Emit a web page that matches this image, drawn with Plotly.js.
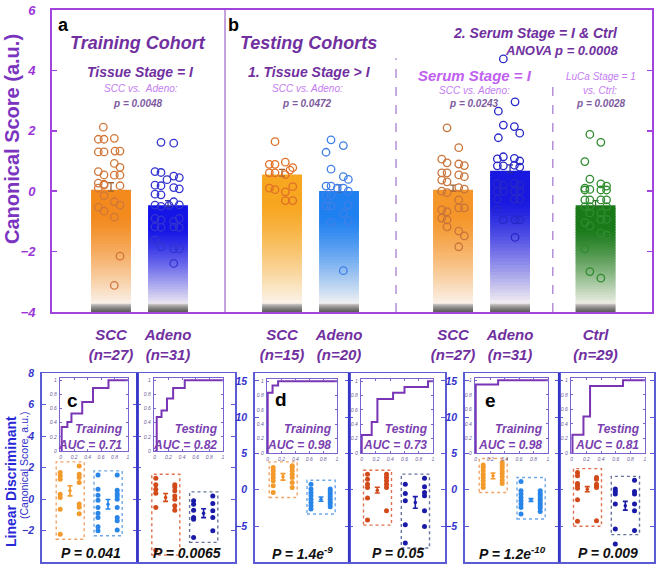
<!DOCTYPE html>
<html><head><meta charset="utf-8">
<script src="https://cdn.plot.ly/plotly-3.0.1.min.js"></script>
<style>body{margin:0;padding:0;background:#fff}#chart{width:656px;height:567px}</style>
</head><body><div id="chart"></div>
<script>
// ================= DATA =================
const categories = ['SCC','Adeno','SCC','Adeno','SCC','Adeno','Ctrl'];
const counts = [27,31,15,20,27,31,29];
const barMeans = [0.0,-0.51,0.50,-0.04,0.0,0.62,-0.51];
const barSem = [0.28,0.2,0.22,0.25,0.2,0.25,0.2];

const sccTrain = [2.12,1.72,1.72,1.75,1.30,1.30,1.33,1.33,0.92,0.79,0.65,0.54,0.53,0.53,0.27,0.23,0.10,0.20,0.18,-0.15,-0.35,-0.46,-0.53,-0.66,-0.86,-2.15,-3.12];
const adenoTrain = [1.62,1.59,0.65,0.62,0.50,0.45,0.38,0.20,0.18,0.12,0.08,-0.10,-0.12,-0.46,-0.50,-0.35,-0.45,-0.47,-0.90,-0.95,-0.90,-1.00,-1.18,-1.20,-1.18,-1.20,-1.62,-1.84,-1.91,-1.91,-2.39];
const sccTest = [1.64,0.89,0.89,0.96,0.78,0.61,0.61,0.55,0.70,0.10,0.05,-0.02,0.15,-0.31,-0.31];
const adenoTest = [1.70,1.51,1.29,0.73,0.48,0.39,0.17,0.17,0.10,0.10,0.00,-0.13,-0.13,-0.49,-0.49,-0.46,-0.73,-0.98,-1.03,-2.63];
const sccSerum = [2.10,1.44,1.06,0.94,0.90,0.85,0.61,0.61,0.54,0.48,0.37,0.31,0.12,0.07,0.00,-0.05,-0.29,-0.55,-0.55,-0.62,-0.68,-0.89,-0.95,-1.18,-1.32,-1.48,-1.84];
const adenoSerum = [4.38,2.96,2.65,2.19,2.14,1.92,1.77,1.07,1.14,1.09,1.00,0.84,0.84,0.86,0.80,0.24,0.20,0.27,0.20,0.00,0.00,0.00,0.02,-0.26,-0.26,-0.26,-0.62,-0.95,-0.95,-0.95,-1.53];
const ctrl = [1.88,1.62,0.98,0.40,0.10,0.06,0.24,0.17,0.04,0.04,0.04,-0.29,-0.29,-0.29,-0.29,-0.51,-0.51,-0.51,-0.72,-0.72,-1.04,-1.15,-0.93,-0.93,-1.39,-1.45,-1.91,-2.66,-2.88];

// bottom panels: left/right dot columns per group
const cTrainSccL = [1.69,1.48,1.27,0.32,0.11,-0.63,-2.22];
const cTrainSccR = [2.11,1.58,1.37,1.06,-0.30,-0.51,-0.93];
const cTrainAdL = [1.54,0.63,0.25,-0.06,-0.53,-0.89,-1.16,-1.75,-2.0];
const cTrainAdR = [1.54,0.56,0.35,0.21,0.0,-0.53,-1.16,-1.37,-1.96];
const cTestSccL = [1.33,0.91,0.63,0.38,-0.53,-3.23];
const cTestSccR = [0.91,0.78,0.53,0.21,0.0,-0.42,-0.70];
const cTestAdL = [-0.10,-0.32,-0.70,-1.16,-1.27,-2.42];
const cTestAdR = [0.21,-0.27,-0.73,-1.16,-2.0];
const dTrainSccL = [3.06,2.61,2.14,1.69,1.24,0.55,-0.37];
const dTrainSccR = [3.3,3.06,2.61,2.14,1.69,1.0,0.32];
const dTrainAdL = [0.77,0.09,-0.37,-0.82,-1.29,-1.74,-2.2,-2.66];
const dTrainAdR = [0.09,-0.23,-0.6,-0.92,-1.29,-1.65,-1.97,-2.34];
const dTestSccL = [2.14,1.46,0.77,0.32,-1.15,-4.18];
const dTestSccR = [2.14,1.69,1.24,0.77,0.32,-2.88];
const dTestAdL = [0.77,-0.51,-1.51,-4.81,-7.33];
const dTestAdR = [1.6,0.41,-0.37,-0.82,-2.88,-5.08];
const eTrainSccL = [3.43,3.06,2.61,2.14,1.69,1.24,0.77,0.32];
const eTrainSccR = [3.75,3.43,3.06,2.61,2.24,1.78,1.32,0.87];
const eTrainAdL = [1.14,-0.14,-0.6,-1.06,-1.51,-1.97,-2.43,-3.35];
const eTrainAdR = [-0.14,-0.51,-0.83,-1.19,-1.51,-1.88,-2.2,-2.52,-2.98];
const eTestSccL = [2.37,1.92,0.87,0.55,0.22,-1.37,-4.35];
const eTestSccR = [1.69,1.46,0.77,0.55,0.32,-4.26];
const eTestAdL = [0.09,-0.23,-0.6,-1.97,-5.41,-7.47];
const eTestAdR = [1.3,-0.23,-0.6,-1.97,-2.88,-5.63];
const groupMeans = [0.53,-0.32, 0.11,-0.89, 1.78,-1.29, -0.05,-1.74, 1.92,-1.42, 0.08,-2.2];
const groupErrs = [0.32,0.3, 0.25,0.28, 0.45,0.3, 0.4,0.8, 0.4,0.2, 0.35,0.6];

// ROC curves (step vertices)
const rocFpr = [
  [0,0.015,0.1,0.16,0.32,0.48,0.71,1],
  [0,0.03,0.1,0.18,0.27,0.44,1],
  [0,0,0.07,0.15,1],
  [0,0,0.14,0.22,0.44,0.6,0.93,1],
  [0,0,0.31,1],
  [0,0.01,0.16,0.25,0.7,1]
];
const rocTpr = [
  [0,0.34,0.41,0.53,0.69,0.89,1,1],
  [0,0.48,0.57,0.74,0.89,1,1],
  [0,0.84,0.94,1,1],
  [0,0.25,0.43,0.75,0.84,0.92,1,1],
  [0,0.94,1,1],
  [0,0.25,0.5,0.92,1,1]
];
const rocNames = ['Training','Testing','Training','Testing','Training','Testing'];
const aucValues = ['0.71','0.82','0.98','0.73','0.98','0.81'];
const pLabels = ['P = 0.041','P = 0.0065','P = 1.4e<sup>-9</sup>','P = 0.05','P = 1.2e<sup>-10</sup>','P = 0.009'];

// ================= LAYOUT CONSTANTS =================
const W = 656, H = 567;
const FONT = 'Liberation Sans, Arial, sans-serif';
const domX = (a,b) => [a/W, b/W];
const domY = (top,bot) => [1 - bot/H, 1 - top/H];
const PX = p => p/W, PY = p => 1 - p/H;

const xpos = [1,2,4,5,7,8,9.5];
const xUnitPx = 57;
const sepX = [3,6,8.75];
const barColors = ['#f28a1e','#1414e6','#f7a620','#1f80f0','#f5962a','#1818e0','#1a7a1a'];
const dotColors = ['#d2773a','#3434d0','#e07028','#3f7fe8','#c8743a','#2828c8','#2e8b2e'];
const sccTrainJit = [-7.7,-12.7,-7,3.3,-12.7,-7,4,9,3.3,9,-12.7,-7,3.3,9,-12.7,-7,-12.7,-7,9,-7,3.3,9,-12.7,-7,3.3,9,3.3];
const adenoTrainJit = [-7,5.7,-13,-7,5.7,11.3,-1,-13,-7,5.7,11.3,-13,-7,-13,-7,5.7,11.3,1,-13,-7,11.3,5.7,-13,-7,5.7,11.3,-13,-7,5.7,11.3,5.7];
const sccTestJit = [-7,-12.7,-7,3.3,10.7,-12.7,-7,3.3,8,-12.7,-7,3.3,10.7,3.3,10.7];
const adenoTestJit = [-8,4.3,-13,-8,4.3,9.3,-13,-8,-1.7,4.3,9.3,-13,-8,-13,-8,9.3,4.3,9.3,-8,4.3];
const sccSerumJit = [-6,5.7,-11.3,-6,5.7,11.3,-11.3,-6,5.7,11.3,-11.3,-6,5.7,11.3,-11.3,-6,5.7,5.7,11.3,-11.3,-6,-11.3,-6,-6,5.7,11.3,5.7];
const adenoSerumJit = [-6.7,5,-11.7,-6.7,4.3,9.7,-11.7,-12.7,-6.7,4.3,9.7,-12.7,-6.7,4.3,9.7,-12.7,-6.7,4.3,9.7,-12.7,-6.7,4.3,9.7,-12.7,4.3,9.7,-12.7,-6.7,5,9.7,5];
const ctrlJit = [-5.7,5.3,-10.7,-5.7,-10.7,-5.7,5.3,11,-10.7,5.3,11,-10.7,-5.7,5.3,11,-10.7,-5.7,11,-5.7,5.3,-10.7,-5.7,5.3,11,5.3,11,-10.7,-5.7,5.3];

const groups = [sccTrain,adenoTrain,sccTest,adenoTest,sccSerum,adenoSerum,ctrl];
const jits = [sccTrainJit,adenoTrainJit,sccTestJit,adenoTestJit,sccSerumJit,adenoSerumJit,ctrlJit];

function hex2rgb(h){return [parseInt(h.slice(1,3),16),parseInt(h.slice(3,5),16),parseInt(h.slice(5,7),16)];}
function mix(c1,c2,w){const a=hex2rgb(c1),b=hex2rgb(c2);return 'rgb('+a.map((v,i)=>Math.round(v*(1-w)+b[i]*w)).join(',')+')';}

const traces = [];
// gradient bars
const NSEG = 40, YMIN = -4, BAND = 0.26;
for (let k=0;k<NSEG;k++){
  const base=[], h=[], cols=[];
  for (let i=0;i<barMeans.length;i++){
    const top=barMeans[i], L=top-YMIN;
    const sTop = top - k*L/NSEG, sBot = top-(k+1)*L/NSEG;
    base.push(sBot); h.push(sTop-sBot + (k<NSEG-1?L/NSEG*0.5:0));
    const t=(k+0.5)/NSEG;
    let w = t<0.22?0:Math.min(1,Math.pow((t-0.22)/0.72,1.25))*0.95;
    cols.push(mix(barColors[i], '#fbf6f2', w));
  }
  traces.push({type:'bar',x:xpos,y:h,base:base,width:0.7,marker:{color:cols,line:{width:0}},hoverinfo:'skip',showlegend:false,xaxis:'x',yaxis:'y'});
}
const NB=8;
for (let k=0;k<NB;k++){
  const t=(k+0.5)/NB;
  const seg=BAND/NB;
  traces.push({type:'bar',x:xpos,y:xpos.map(()=>seg*1.3),base:xpos.map(()=>YMIN+BAND-(k+1)*seg),width:0.7,
    marker:{color:mix('#dcd8d4','#5a5a5a',Math.pow(t,0.7)),line:{width:0}},hoverinfo:'skip',showlegend:false});
}
// error bars (upper half)
for (let i=0;i<barMeans.length;i++){
  traces.push({type:'scatter',mode:'markers',x:[xpos[i]],y:[barMeans[i]],marker:{size:1,opacity:0},
    error_y:{type:'data',symmetric:false,array:[barSem[i]],arrayminus:[0],color:mix(dotColors[i],'#303030',0.3),thickness:1.3,width:3},
    hoverinfo:'skip',showlegend:false});
}
// points
for (let g=0; g<groups.length; g++){
  traces.push({type:'scatter',mode:'markers',x:groups[g].map((v,j)=>xpos[g]+jits[g][j]/xUnitPx),y:groups[g],
    marker:{symbol:'circle-open',size:7.5,color:dotColors[g],line:{width:1.3}},hoverinfo:'skip',showlegend:false});
}

// ================= BOTTOM PANELS =================
const panelX = [[41.7,137.3],[137.3,235],[254.7,349],[349,445],[464.7,559],[559,654]];
const panelTop = 373, panelBot = 562.3;
const panelRange = [[-4,8],[-4,8],[-10,16.1],[-10,16.1],[-10,16.1],[-10,16.1]];
const panelTicks = [[-4,-2,0,2,4,6,8],[-4,-2,0,2,4,6,8],[-10,-5,0,5,10,15],[-10,-5,0,5,10,15],[-10,-5,0,5,10,15],[-10,-5,0,5,10,15]];
const rocBox = [[60,128,378,451],[154,223,378,451],[267,337,379,453],[361,433,379,453],[475,548,378,453],[571,645,378,453]];
const colPos = [18.5,28.3,37.5,56.3,66.3,75.5];
const panelData = [
  [cTrainSccL,cTrainSccR,cTrainAdL,cTrainAdR],[cTestSccL,cTestSccR,cTestAdL,cTestAdR],
  [dTrainSccL,dTrainSccR,dTrainAdL,dTrainAdR],[dTestSccL,dTestSccR,dTestAdL,dTestAdR],
  [eTrainSccL,eTrainSccR,eTrainAdL,eTrainAdR],[eTestSccL,eTestSccR,eTestAdL,eTestAdR]];
const trainCols = ['#f39a2c','#2a85e8'], testCols = ['#d24a1a','#1a1aa8'];
const trainBox = ['#f2a468','#6fa8e6'], testBox = ['#e0714e','#66729c'];
const frameCol = '#5b5bd6';

const layout = {
  width:W,height:H,margin:{l:0,r:0,t:0,b:0},paper_bgcolor:'#fff',plot_bgcolor:'rgba(0,0,0,0)',
  barmode:'overlay',showlegend:false,font:{family:FONT},
  xaxis:{domain:domX(52,652),range:[-0.035,10.49],tickvals:xpos,
    ticktext:categories.map((c,i)=>c+'<br>(n='+counts[i]+')'),
    tickfont:{family:FONT,size:15,color:'#7030a0',weight:'bold',style:'italic'},
    showline:true,mirror:true,linecolor:'#a044dd',linewidth:2,ticks:'',showgrid:false,zeroline:false,ticklabelstandoff:8},
  yaxis:{domain:domY(10,312),range:[-4,6],tickvals:[-4,-2,0,2,4,6],ticks:'inside',ticklen:5,tickcolor:'#a044dd',tickwidth:1.5,
    showline:true,mirror:'ticks',linecolor:'#a044dd',linewidth:2,showgrid:false,zeroline:false,
    tickfont:{family:FONT,size:13,color:'#9b35d6',weight:'bold',style:'italic'},ticklabelstandoff:12},
  shapes:[],annotations:[]
};
// separators in top panel
layout.shapes.push({type:'line',xref:'x',yref:'y',x0:sepX[0],x1:sepX[0],y0:-4,y1:6,line:{color:'#b58ad6',width:1.6}});
layout.shapes.push({type:'line',xref:'x',yref:'y',x0:sepX[1],x1:sepX[1],y0:-4,y1:4.4,line:{color:'#a87fd0',width:1.3,dash:'dash'}});
layout.shapes.push({type:'line',xref:'x',yref:'y',x0:sepX[2],x1:sepX[2],y0:-4,y1:3.6,line:{color:'#a87fd0',width:1.3,dash:'dash'}});

for (let p=0;p<6;p++){
  const ax=p+2, rx=p+8;
  const [x0,x1]=panelX[p]; const wpx=x1-x0;
  const isTrain = p%2===0;
  const yr=panelRange[p]; const ppu=(panelBot-panelTop)/(yr[1]-yr[0]);
  layout['xaxis'+ax]={domain:domX(x0,x1),range:[0,wpx],anchor:'y'+ax,showline:true,mirror:true,linecolor:frameCol,linewidth:1.5,
    ticks:'',showticklabels:false,showgrid:false,zeroline:false};
  layout['yaxis'+ax]={domain:domY(panelTop,panelBot),range:yr,anchor:'x'+ax,tickvals:panelTicks[p],ticks:'inside',ticklen:4,tickcolor:frameCol,
    showline:true,mirror:'ticks',linecolor:frameCol,linewidth:1.5,showgrid:false,zeroline:false,showticklabels:isTrain,
    tickfont:{family:FONT,size:10.5,color:'#3434cc',weight:'bold',style:'italic'},ticklabelstandoff:4};
  const cols = isTrain?trainCols:testCols, bcols = isTrain?trainBox:testBox;
  const d = panelData[p];
  for (let g=0; g<2; g++){
    const L=d[2*g], R=d[2*g+1];
    const xL=colPos[3*g], xM=colPos[3*g+1], xR=colPos[3*g+2];
    const all=L.concat(R);
    const mx=Math.max(...all), mn=Math.min(...all);
    let lo = mn - 5/ppu;
    if (p===5 && g===1) { const s=all.slice().sort((a,b)=>a-b); lo = s[1]-4/ppu; }
    layout.shapes.push({type:'rect',xref:'x'+ax,yref:'y'+ax,x0:xL-4,x1:xR+5,y0:lo,y1:mx+4/ppu,
      line:{color:bcols[g],width:1.4,dash:'dot'},layer:'below'});
    traces.push({type:'scatter',mode:'markers',xaxis:'x'+ax,yaxis:'y'+ax,x:L.map(()=>xL).concat(R.map(()=>xR)),y:all,
      marker:{size:5,color:cols[g]},hoverinfo:'skip'});
    traces.push({type:'scatter',mode:'markers',xaxis:'x'+ax,yaxis:'y'+ax,x:[xM],y:[groupMeans[2*p+g]],
      marker:{size:3.5,color:cols[g]},error_y:{type:'data',array:[groupErrs[2*p+g]],color:cols[g],thickness:1.6,width:2.5},hoverinfo:'skip'});
  }
  // ROC inset
  const rb=rocBox[p];
  layout['xaxis'+rx]={domain:domX(rb[0],rb[1]),range:[-0.01,1],anchor:'y'+rx,tickvals:[0,0.2,0.4,0.6,0.8,1],ticktext:['0','0.2','0.4','0.6','0.8','1'],
    ticks:'inside',ticklen:2,tickcolor:'#7a62d0',showline:true,mirror:'ticks',linecolor:'#7a62d0',linewidth:1.3,showgrid:false,zeroline:false,
    tickfont:{family:FONT,size:5,color:'#6a5a9a',style:'italic'},ticklabelstandoff:1};
  layout['yaxis'+rx]={domain:domY(rb[2],rb[3]),range:[0,1.03],anchor:'x'+rx,tickvals:[0,0.2,0.4,0.6,0.8,1],ticktext:['0','0.2','0.4','0.6','0.8','1'],
    ticks:'inside',ticklen:2,tickcolor:'#7a62d0',showline:true,mirror:'ticks',linecolor:'#7a62d0',linewidth:1.3,showgrid:false,zeroline:false,
    tickfont:{family:FONT,size:5,color:'#6a5a9a',style:'italic'},ticklabelstandoff:1};
  traces.push({type:'scatter',mode:'lines',xaxis:'x'+rx,yaxis:'y'+rx,x:rocFpr[p],y:rocTpr[p],line:{shape:'hv',color:'#7a35b5',width:2},hoverinfo:'skip'});
  layout.annotations.push({xref:'paper',yref:'paper',x:PX(rb[1]-3),y:PY(436.5),xanchor:'right',yanchor:'middle',showarrow:false,
    text:rocNames[p]+'<br>AUC = '+aucValues[p],align:'right',font:{family:FONT,size:12,color:'#7a3fb0',weight:'bold',style:'italic'}});
  layout.annotations.push({xref:'paper',yref:'paper',x:PX((x0+x1)/2+1),y:PY(553),xanchor:'center',yanchor:'middle',showarrow:false,
    text:pLabels[p],font:{family:FONT,size:14,color:'#111',weight:'bold',style:'italic'}});
}
// thicker separators inside bottom panel pairs
[137.3,349,559].forEach(xp=>layout.shapes.push({type:'line',xref:'paper',yref:'paper',x0:PX(xp),x1:PX(xp),y0:PY(panelBot),y1:PY(panelTop),line:{color:'#3636c8',width:2.2}}));

// ================= TEXT =================
function ann(text,x,y,size,color,opts={}){
  layout.annotations.push(Object.assign({xref:'paper',yref:'paper',x:PX(x),y:PY(y),xanchor:'center',yanchor:'middle',showarrow:false,text:text,
    font:{family:FONT,size:size,color:color,weight:opts.weight||'bold',style:opts.style||'italic'}},opts.extra||{}));
}
const dark='#7030a0', light='#c37cf2', pcol='#7e5aa0';
ann('Canonical Score (a.u.)',12,139,20,'#7a34c0',{style:'normal',extra:{textangle:-90}});
ann('a',63,25,18,'#000',{style:'normal'});
ann('b',233,25,18,'#000',{style:'normal'});
ann('Training Cohort',138,43,18,dark);
ann('Tissue Stage = I',140,72,14,dark);
ann('SCC vs.  Adeno:',141,88,10,light,{weight:'normal'});
ann('p = 0.0048',138,103,10,pcol);
ann('Testing Cohorts',308,43,18,dark);
ann('1. Tissue Stage > I',309,72,14,dark);
ann('SCC vs. Adeno:',307,88,10,light,{weight:'normal'});
ann('p = 0.0472',307,103,10,pcol);
ann('2. Serum Stage = I & Ctrl',620,33,14,dark,{extra:{xanchor:'right'}});
ann('ANOVA p = 0.0008',620,50,13,dark,{extra:{xanchor:'right'}});
ann('Serum Stage = I',475,75,15,'#c060f0');
ann('SCC vs. Adeno:',474,90,10,light,{weight:'normal'});
ann('p = 0.0243',474,103,10,pcol);
ann('LuCa Stage = 1',601,77,10,light,{weight:'normal'});
ann('vs. Ctrl:',600,90,10,light,{weight:'normal'});
ann('p = 0.0028',601,103,10,pcol);
ann('c',72,400,19,'#000',{style:'normal'});
ann('d',281,399,19,'#000',{style:'normal'});
ann('e',490,400,19,'#000',{style:'normal'});
ann('Linear Discriminant',11,482,14,'#2828d8',{style:'normal',extra:{textangle:-90}});
ann('(Canonical Score, a.u.)',24,466,10.5,'#3030c8',{style:'normal',weight:'normal',extra:{textangle:-90}});

Plotly.newPlot('chart',traces,layout,{displayModeBar:false,staticPlot:true});
</script></body></html>
